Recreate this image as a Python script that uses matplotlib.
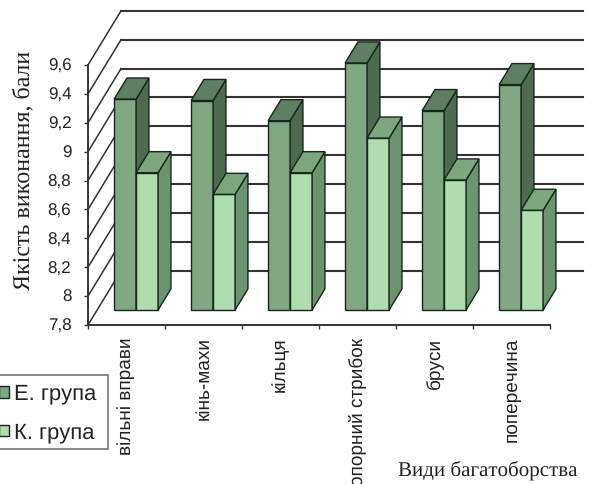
import matplotlib
matplotlib.use("Agg")
import matplotlib.pyplot as plt
from matplotlib.patches import Patch, Polygon, Rectangle

categories = ["вільні вправи", "кінь-махи", "кільця", "опорний стрибок", "бруси", "поперечина"]
e_group = [9.26, 9.25, 9.11, 9.51, 9.18, 9.36]
k_group = [8.75, 8.60, 8.75, 8.99, 8.70, 8.49]
y_ticks = [7.8, 8, 8.2, 8.4, 8.6, 8.8, 9, 9.2, 9.4, 9.6]
y_labels = ["7,8", "8", "8,2", "8,4", "8,6", "8,8", "9", "9,2", "9,4", "9,6"]

W, H = 606, 484
YMIN, YMAX = 7.8, 9.6
# oblique depth: how far the back wall is shifted, in data units
DEPTH_X = 33 / 77
DEPTH_Y = 54 / 144
BAR_FRONT = 15 / 54
BAR_BACK = 36 / 54
BAR_W = 22 / 77
SERIF = "Liberation Serif"
SANS = "Liberation Sans"


def proj(x, v, d):
    """Oblique projection of (category pos, value, depth 0..1)"""
    return x + d * DEPTH_X, v + d * DEPTH_Y


def draw_bar(ax, x0, val, front, top, side):
    x1 = x0 + BAR_W
    faces = [
        ([(x0, YMIN, BAR_FRONT), (x1, YMIN, BAR_FRONT), (x1, val, BAR_FRONT), (x0, val, BAR_FRONT)], front),
        ([(x1, YMIN, BAR_FRONT), (x1, YMIN, BAR_BACK), (x1, val, BAR_BACK), (x1, val, BAR_FRONT)], side),
        ([(x0, val, BAR_FRONT), (x1, val, BAR_FRONT), (x1, val, BAR_BACK), (x0, val, BAR_BACK)], top),
    ]
    for pts, color in faces:
        ax.add_patch(Polygon([proj(*p) for p in pts], closed=True, facecolor=color,
                             edgecolor="#16261a", linewidth=1.0, clip_on=False, zorder=3))


def main():
    plt.rcParams["font.family"] = SANS
    plt.rcParams["text.hinting"] = "no_hinting"
    plt.rcParams["text.hinting_factor"] = 1
    fig = plt.figure(figsize=(W / 100, H / 100), dpi=100)
    ax = fig.add_axes([88 / W, (H - 325) / H, 462 / W, 260 / H])
    ax.set_xlim(0, len(categories))
    ax.set_ylim(YMIN, YMAX)
    ax.patch.set_visible(False)
    ax.spines["top"].set_visible(False)
    ax.spines["right"].set_visible(False)
    for s in ("left", "bottom"):
        ax.spines[s].set_color("#333333")
        ax.spines[s].set_linewidth(1.4)

    # wall grid lines and diagonals
    for v in y_ticks:
        x_a, y_a = proj(0, v, 1)
        x_b, y_b = proj(len(categories), v, 1)
        ax.plot([x_a, x_b], [y_a, y_b], color="#333333", lw=1.5, clip_on=False, zorder=1)
        x_f, y_f = proj(0, v, 0)
        ax.plot([x_f, x_a], [y_f, y_a], color="#333333", lw=1.1, clip_on=False, zorder=1)

    for i in range(len(categories)):
        x0 = i + 0.22
        draw_bar(ax, x0, e_group[i], "#7FA782", "#5E7F62", "#4E6B52")
        draw_bar(ax, x0 + BAR_W, k_group[i], "#AEDDB0", "#7BA67E", "#6C9471")

    ax.set_yticks(y_ticks)
    ax.set_yticklabels(y_labels, fontsize=12.2, color="#222222")
    ax.tick_params(axis="y", length=3, width=1, color="#333333", pad=9)
    ax.set_xticks(range(len(categories) + 1))
    ax.set_xticklabels([])
    ax.tick_params(axis="x", length=3, width=1, color="#333333")
    ax.set_xticks([i + 0.5 for i in range(len(categories))], minor=True)
    ax.set_xticklabels(categories, minor=True, rotation=90, fontsize=13.7, va="top", ha="center",
                       color="#222222")
    ax.tick_params(axis="x", which="minor", length=0, pad=9)

    fig.text(24 / W, 1 - 170 / H, "Якість виконання, бали", rotation=90, family=SERIF,
             fontsize=17.2, ha="center", va="center", color="#222222")
    fig.text(488 / W, 1 - 470 / H, "Види багатоборства", family=SERIF, fontsize=15.4,
             ha="center", va="center", color="#222222")

    # legend box runs off the left edge of the picture, so frame and entries are separate
    fig.add_artist(Rectangle((-5 / W, 1 - 449 / H), 113 / W, 74 / H, transform=fig.transFigure,
                             facecolor="white", edgecolor="#777777", linewidth=1.2))
    handles = [Patch(facecolor="#7FA782", edgecolor="#16261a", label="Е. група"),
               Patch(facecolor="#AEDDB0", edgecolor="#16261a", label="К. група")]
    fig.legend(handles=handles, loc="upper right", bbox_to_anchor=(96 / W, 1 - 384 / H),
               fontsize=15.5, frameon=False,
               handlelength=0.46, handleheight=0.46, handletextpad=0.23,
               labelspacing=0.82, borderpad=0, borderaxespad=0, labelcolor="#222222")

    fig.savefig("out.png", dpi=100)


if __name__ == "__main__":
    main()
